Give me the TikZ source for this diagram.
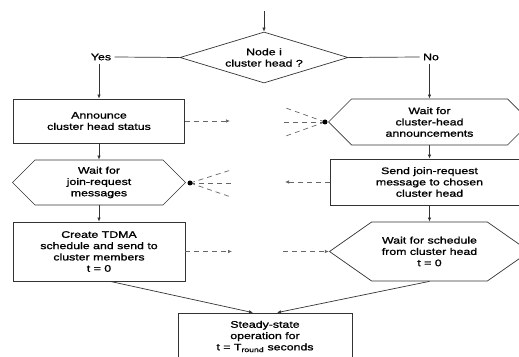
\documentclass[tikz,border=0pt]{standalone}
\usepackage{fontspec}
\setmainfont[FakeStretch=1.3, FakeBold=1.2]{Liberation Sans}
\usetikzlibrary{shapes.geometric, shapes.symbols, arrows.meta, positioning, calc}

\begin{document}
\begin{tikzpicture}[x=1pt, y=1pt,
    >={Latex[length=4pt,width=3.5pt]},
    every node/.style={font=\fontsize{9.5}{11.3}\selectfont, align=center},
    line/.style={draw=black!80, line width=0.7pt},
    procbox/.style={line, rectangle, inner sep=2pt},
    waitbox/.style={line, signal, signal to=west and east, inner sep=2pt},
    msg/.style={draw=black!60, line width=0.7pt, dash pattern=on 5pt off 4pt}]
\useasboundingbox (0,0) rectangle (519,356);

% Decision
\coordinate (start) at (264,345);
\node[line, diamond, aspect=3.3, minimum width=168pt, minimum height=51pt, inner sep=0pt] (decide) at (264,298.5) {Node i\\cluster head ?};
\node (yes) at (101,299) {Yes};
\node (no) at (431,299) {No};

% Cluster head branch
\node[procbox, minimum width=171pt, minimum height=44pt] (announce) at (99,235) {Announce\\cluster head status};
\node[waitbox, minimum width=173pt, minimum height=45pt] (waitjoin) at (99,173.5) {Wait for\\join-request\\messages};
\node[procbox, minimum width=172pt, minimum height=59pt] (tdma) at (99,104.5) {Create TDMA\\schedule and send to\\cluster members\\t = 0};

% Member branch
\node[waitbox, minimum width=202pt, minimum height=46pt] (waitann) at (429.5,234) {Wait for\\cluster-head\\announcements};
\node[procbox, minimum width=198pt, minimum height=46pt] (sendjoin) at (429.5,174) {Send join-request\\message to chosen\\cluster head};
\node[waitbox, signal pointer angle=70, minimum width=200pt, minimum height=59pt] (waitsched) at (429.5,104.5) {Wait for schedule\\from cluster head\\t = 0};

% Steady state
\node[procbox, minimum width=174pt, minimum height=47pt] (steady) at (265,19.5) {Steady-state\\operation for\\t = T\textsubscript{round} seconds};

% Flow
\draw[line, ->] (start) -- (decide.north);
\draw[line] (decide.west) -- (yes.east);
\draw[line] (decide.east) -- (no.west);
\draw[line, ->] (yes.south -| announce.north) -- (announce.north);
\draw[line, ->] (no.south -| waitann.north) -- (waitann.north);
\draw[line, ->] (announce.south) -- (waitjoin.north);
\draw[line, ->] (waitjoin.south) -- (tdma.north);
\draw[line, ->] (waitann.south) -- (sendjoin.north);
\draw[line, ->] (sendjoin.south) -- (waitsched.north);
\draw[line, ->] ($(tdma.south)+(11,0)$) -- ($(steady.north)+(-12,0)$);
\draw[line, ->] (waitsched.south) -- ($(steady.north)+(12,0)$);

% Messages
\coordinate (annout) at (230,235);
\coordinate (annin) at (325,234);
\draw[msg, ->] (announce.east) -- (annout);
\foreach \dy in {15,0,-15} \draw[msg] (annin) -- ++(-42,\dy);
\fill[black] (annin) circle (2.5pt);

\coordinate (joinout) at (285,174);
\coordinate (joinin) at (190,173);
\draw[msg, ->] (sendjoin.west) -- (joinout);
\foreach \dy in {13,0,-14} \draw[msg] (joinin) -- ++(41,\dy);
\fill[black] (joinin) circle (2.5pt);

\coordinate (schedout) at (232,104.5);
\coordinate (schedin) at (283,104.5);
\draw[msg, ->] (tdma.east) -- (schedout);
\draw[msg, ->] (schedin) -- (waitsched.west);
\end{tikzpicture}
\end{document}
